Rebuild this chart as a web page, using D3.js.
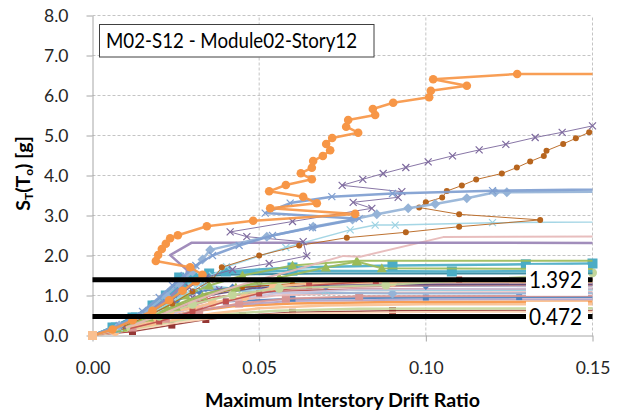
<!DOCTYPE html>
<html><head><meta charset="utf-8">
<script src="https://cdn.jsdelivr.net/npm/d3@7"></script>
<style>body{margin:0;background:#fff}svg{display:block}text{font-family:Lato,"Open Sans",sans-serif}</style>
</head><body><svg id="c" width="623" height="412"></svg>
<script>
// ---------- DATA ----------
const xTicks = [0, 0.05, 0.10, 0.15];
const yTicks = [0, 1, 2, 3, 4, 5, 6, 7, 8];
const thresholds = [1.392, 0.472];
const thresholdLabels = ["1.392", "0.472"];
const chartTitle = "M02-S12 - Module02-Story12";
const xTitle = "Maximum Interstory Drift Ratio";

// IDA curves: [max interstory drift ratio, ST(T0) g]
const b01 = [[0,0],[0.006,0.2],[0.012,0.45],[0.018,0.75],[0.022,1.0],[0.026,1.25],[0.03,1.45],[0.04,1.6],[0.06,1.7],[0.09,1.75],[0.13,1.78],[0.15,1.8]];
const b02 = [[0,0],[0.007,0.2],[0.013,0.45],[0.019,0.75],[0.024,1.05],[0.027,1.3],[0.026,1.45],[0.035,1.55],[0.06,1.62],[0.1078,1.6],[0.25,1.63]];
const b03 = [[0,0],[0.008,0.2],[0.015,0.45],[0.022,0.75],[0.028,1.0],[0.035,1.25],[0.045,1.5],[0.06,1.75],[0.0793,1.87],[0.25,1.87]];
const b04 = [[0,0],[0.009,0.2],[0.017,0.45],[0.025,0.72],[0.033,0.98],[0.043,1.2],[0.056,1.45],[0.07,1.7],[0.0793,1.85],[0.0868,1.68],[0.25,1.64]];
const b05 = [[0,0],[0.01,0.15],[0.02,0.35],[0.03,0.6],[0.04,0.85],[0.05,1.05],[0.065,1.25],[0.085,1.36],[0.11,1.4],[0.25,1.42]];
const b06 = [[0,0],[0.009,0.2],[0.018,0.45],[0.026,0.75],[0.034,1.0],[0.045,1.2],[0.06,1.3],[0.09,1.34],[0.129,1.37],[0.25,1.37]];
const b07 = [[0,0],[0.008,0.2],[0.016,0.45],[0.024,0.7],[0.03,0.95],[0.038,1.15],[0.05,1.25],[0.075,1.3],[0.25,1.32]];
const b08 = [[0,0],[0.01,0.2],[0.019,0.45],[0.028,0.7],[0.038,0.95],[0.05,1.1],[0.07,1.2],[0.1,1.25],[0.25,1.27]];
const b09 = [[0,0],[0.011,0.2],[0.02,0.45],[0.03,0.7],[0.042,0.9],[0.055,1.05],[0.08,1.15],[0.25,1.21]];
const b10 = [[0,0],[0.007,0.2],[0.014,0.45],[0.02,0.7],[0.025,0.95],[0.028,1.2],[0.029,1.35],[0.034,1.25],[0.045,1.15],[0.07,1.13],[0.25,1.16]];
const b11 = [[0,0],[0.01,0.2],[0.02,0.45],[0.03,0.68],[0.04,0.85],[0.055,1.0],[0.08,1.07],[0.25,1.11]];
const b12 = [[0,0],[0.008,0.2],[0.016,0.5],[0.022,0.8],[0.026,1.05],[0.029,1.3],[0.027,1.42],[0.034,1.2],[0.05,1.08],[0.09,1.05],[0.25,1.06]];
const b13 = [[0,0],[0.012,0.2],[0.022,0.42],[0.032,0.62],[0.044,0.8],[0.058,0.92],[0.08,0.98],[0.25,1.01]];
const b14 = [[0,0],[0.01,0.2],[0.02,0.45],[0.03,0.7],[0.04,0.85],[0.06,0.92],[0.1,0.95],[0.128,0.96],[0.25,0.97]];
const b15 = [[0,0],[0.011,0.2],[0.021,0.42],[0.031,0.62],[0.043,0.77],[0.06,0.86],[0.1,0.9],[0.25,0.92]];
const b16 = [[0,0],[0.01,0.2],[0.02,0.42],[0.03,0.6],[0.042,0.73],[0.06,0.8],[0.09,0.84],[0.25,0.86]];
const b17 = [[0,0],[0.0068,0.1],[0.0178,0.345],[0.0233,0.6],[0.03,0.68],[0.036,0.82],[0.0457,0.97],[0.0543,1.22],[0.065,1.3],[0.09,1.33],[0.25,1.35]];
const b18 = [[0,0],[0.012,0.18],[0.024,0.38],[0.036,0.55],[0.05,0.68],[0.07,0.75],[0.1,0.78],[0.25,0.79]];
const b19 = [[0,0],[0.012,0.17],[0.025,0.37],[0.038,0.52],[0.055,0.62],[0.08,0.67],[0.25,0.7]];
const b20 = [[0,0],[0.012,0.1],[0.0238,0.26],[0.034,0.4],[0.045,0.5],[0.06,0.58],[0.09,0.62],[0.25,0.64]];
const b21 = [[0,0],[0.013,0.15],[0.026,0.33],[0.04,0.47],[0.06,0.55],[0.1,0.59],[0.25,0.6]];
const b22 = [[0,0],[0.007,0.25],[0.014,0.55],[0.019,0.85],[0.023,1.15],[0.026,1.38],[0.03,1.45],[0.04,1.52],[0.07,1.55],[0.25,1.56]];
const b23 = [[0,0],[0.009,0.25],[0.018,0.55],[0.025,0.85],[0.032,1.1],[0.042,1.2],[0.07,1.23],[0.1,1.24],[0.25,1.25]];
const b24 = [[0,0],[0.009,0.22],[0.018,0.5],[0.026,0.8],[0.034,1.05],[0.045,1.25],[0.06,1.35],[0.1,1.38],[0.25,1.4]];
const b25 = [[0,0],[0.01,0.22],[0.02,0.5],[0.028,0.78],[0.036,1.02],[0.048,1.18],[0.07,1.26],[0.25,1.3]];
const b26 = [[0,0],[0.009,0.2],[0.018,0.46],[0.027,0.72],[0.036,0.95],[0.05,1.1],[0.08,1.16],[0.25,1.19]];
const b27 = [[0,0],[0.01,0.2],[0.02,0.48],[0.03,0.78],[0.042,1.02],[0.056,1.18],[0.088,1.26],[0.15,1.57]];
const recPink = [[0,0],[0.01,0.2],[0.02,0.5],[0.03,0.85],[0.04,1.15],[0.05,1.4],[0.06,1.62],[0.068,1.82],[0.0753,1.99],[0.0803,1.97],[0.1052,2.46],[0.25,2.51]];
const recPurpleFlat = [[0,0],[0.009,0.25],[0.017,0.6],[0.023,0.95],[0.027,1.25],[0.0283,1.5],[0.0283,1.64],[0.0233,2.01],[0.0298,2.32],[0.25,2.31]];
const recLightAqua = [[0,0],[0.008,0.2],[0.016,0.5],[0.024,0.85],[0.031,1.2],[0.036,1.5],[0.0402,1.72],[0.058,2.2],[0.0773,2.64],[0.0848,2.76],[0.0908,2.76],[0.12,2.82],[0.25,2.9]];
const recBlueB = [[0,0],[0.008,0.25],[0.016,0.6],[0.022,1.0],[0.026,1.3],[0.03,1.6],[0.033,1.9],[0.0353,2.14],[0.0523,2.47],[0.0662,2.72],[0.078,2.9],[0.0853,3.03],[0.0947,3.18],[0.1028,3.29],[0.1123,3.43],[0.1208,3.58],[0.1243,3.58],[0.25,3.64]];
const recBlueA = [[0,0],[0.008,0.25],[0.015,0.6],[0.02,0.95],[0.024,1.25],[0.0275,1.5],[0.031,1.75],[0.036,2.0],[0.044,2.25],[0.054,2.5],[0.066,2.7],[0.08,2.92],[0.0518,3.06],[0.0593,3.31],[0.0718,3.47],[0.09,3.55],[0.12,3.62],[0.25,3.75]];
const recBrown = [[0,0],[0.009,0.22],[0.017,0.5],[0.024,0.8],[0.03,1.1],[0.036,1.4],[0.0388,1.705],[0.05,2.0],[0.062,2.25],[0.0763,2.445],[0.094,2.58],[0.11,2.72],[0.1343,2.89],[0.11,3.03],[0.098,3.2],[0.1,3.33],[0.1049,3.45],[0.1063,3.61],[0.1108,3.75],[0.1151,3.9],[0.1228,4.05],[0.1273,4.2],[0.1313,4.35],[0.1354,4.49],[0.1362,4.62],[0.1412,4.79],[0.145,4.93],[0.149,5.08],[0.16,5.25]];
const recPurpleX = [[0,0],[0.009,0.25],[0.017,0.55],[0.024,0.9],[0.029,1.2],[0.034,1.45],[0.042,1.65],[0.053,1.8],[0.0643,1.99],[0.0632,2.345],[0.0463,2.47],[0.0413,2.59],[0.06,2.85],[0.0838,3.18],[0.0782,3.33],[0.0917,3.455],[0.0928,3.595],[0.0749,3.755],[0.0811,3.905],[0.0872,4.05],[0.094,4.2],[0.1007,4.34],[0.108,4.49],[0.116,4.64],[0.124,4.78],[0.1328,4.95],[0.1409,5.08],[0.15,5.24]];
const recOrange = [[0,0],[0.006,0.15],[0.012,0.38],[0.018,0.62],[0.023,0.88],[0.027,1.12],[0.031,1.35],[0.033,1.52],[0.0293,1.705],[0.019,1.863],[0.0197,2.013],[0.0208,2.163],[0.022,2.295],[0.0233,2.43],[0.0256,2.505],[0.0343,2.73],[0.0482,2.87],[0.0788,3.04],[0.0533,3.18],[0.0673,3.305],[0.0632,3.47],[0.053,3.605],[0.058,3.763],[0.0658,3.905],[0.0625,4.055],[0.0658,4.195],[0.0662,4.363],[0.0691,4.488],[0.0713,4.63],[0.0701,4.788],[0.0719,4.938],[0.0797,5.07],[0.0761,5.22],[0.0767,5.388],[0.0848,5.513],[0.0841,5.663],[0.0902,5.82],[0.101,5.955],[0.1015,6.12],[0.1123,6.245],[0.1022,6.405],[0.1274,6.538],[0.25,6.55]];

const records = [b20,b21,b19,b18,b16,b15,b14,b13,b11,b12,b10,b26,b09,b23,b08,b25,b07,b06,b17,b24,b05,b27,b22,b02,b01,b04,b03,recPink,recPurpleFlat,recLightAqua,recBrown,recPurpleX,recBlueB,recBlueA,recOrange];

// ---------- STYLES (parallel to records) ----------
const recordStyles = [
 {c:"#953735",w:1.5,m:"square",s:3.5},
 {c:"#FCD5B5",w:2,m:null},
 {c:"#C3D69B",w:2.5,m:null},
 {c:"#FABF8F",w:2.5,m:null},
 {c:"#F79646",w:2.5,m:null},
 {c:"#B3A2C7",w:2,m:null},
 {c:"#4F81BD",w:2,m:"square",s:3},
 {c:"#D99694",w:2,m:"square",s:4},
 {c:"#E6B9B8",w:2,m:null},
 {c:"#95B3D7",w:2,m:"diamond",s:5},
 {c:"#93CDDD",w:2,m:"star",s:4},
 {c:"#C0504D",w:1.5,m:null},
 {c:"#CCC1DA",w:2,m:null},
 {c:"#4F81BD",w:1.5,m:"diamond",s:4},
 {c:"#D99694",w:2,m:null},
 {c:"#5F497A",w:1.5,m:null},
 {c:"#8064A2",w:1.2,m:"x",s:3},
 {c:"#B65708",w:1.2,m:"circle",s:2.5},
 {c:"#FAC090",w:2.5,m:"circle",s:4.5},
 {c:"#9BBB59",w:2,m:null},
 {c:"#C0504D",w:1.5,m:"square",s:3},
 {c:"#C3D69B",w:2,m:"circle",s:4.5},
 {c:"#31859C",w:2,m:null},
 {c:"#4BACC6",w:2.5,m:"square",s:5},
 {c:"#4BACC6",w:2.5,m:"square",s:5},
 {c:"#9BBB59",w:2,m:"triangle",s:5},
 {c:"#9BBB59",w:2,m:"triangle",s:5},
 {c:"#E6B9B8",w:2,m:null},
 {c:"#9983B5",w:2.5,m:null},
 {c:"#9DD3E3",w:1.5,m:"x",s:3.5},
 {c:"#B7651E",w:1,m:"circle",s:3},
 {c:"#7E6A9E",w:1,m:"x",s:3.5},
 {c:"#95B3D7",w:2.5,m:"diamond",s:5},
 {c:"#7F9ED0",w:2.5,m:"x",s:3.5},
 {c:"#F79646",w:2.5,m:"circle",s:4.3}
];

// ---------- DRAW ----------
const svg = d3.select("#c");
const x = d3.scaleLinear().domain([0, 0.15]).range([92.5, 592.5]);
const y = d3.scaleLinear().domain([0, 8]).range([335.5, 15.5]);

svg.append("defs").append("clipPath").attr("id","pc").append("rect")
  .attr("x", x(0)).attr("y", y(8)).attr("width", x(0.15)-x(0)).attr("height", y(0)-y(8));

// gridlines
svg.append("g").selectAll("line").data(yTicks.filter(d=>d>0)).join("line")
  .attr("x1", x(0)).attr("x2", x(0.15)).attr("y1", d=>y(d)).attr("y2", d=>y(d))
  .attr("stroke","#c4c4c4").attr("stroke-dasharray","3,2").attr("stroke-width",1);
svg.append("g").selectAll("line").data(xTicks.filter(d=>d>0)).join("line")
  .attr("y1", y(0)).attr("y2", y(8)).attr("x1", d=>x(d)).attr("x2", d=>x(d))
  .attr("stroke","#c4c4c4").attr("stroke-dasharray","3,2").attr("stroke-width",1);

// axes
const gy = svg.append("g").attr("transform",`translate(${x(0)},0)`)
  .call(d3.axisLeft(y).tickValues(yTicks).tickFormat(d3.format(".1f")).tickSize(6).tickSizeOuter(0).tickPadding(18));
const gx = svg.append("g").attr("transform",`translate(0,${y(0)})`)
  .call(d3.axisBottom(x).tickValues(xTicks).tickFormat(d3.format(".2f")).tickSize(6).tickSizeOuter(0).tickPadding(20));
[gy, gx].forEach(g=>{
  g.select(".domain").attr("stroke","#a6a6a6");
  g.selectAll(".tick line").attr("stroke","#a6a6a6");
  g.selectAll(".tick text").attr("font-size","17.5px").attr("fill","#262626").attr("font-family","Lato, 'Open Sans', sans-serif");
});

// curves
const line = d3.line().x(d=>x(d[0])).y(d=>y(d[1]));
const gc = svg.append("g");
records.forEach((rec,i)=>{
  const st = recordStyles[i];
  gc.append("path").attr("d", line(rec)).attr("fill","none")
    .attr("stroke", st.c).attr("stroke-width", st.w).attr("stroke-opacity",0.92)
    .attr("stroke-linejoin","round").attr("stroke-linecap","round")
    .attr("clip-path","url(#pc)");
  if (!st.m) return;
  const pts = rec.filter(d=>d[0] <= 0.1501 && !(d[0]===0 && d[1]===0));
  const g = gc.append("g");
  const s = st.s;
  pts.forEach(d=>{
    const px = x(d[0]), py = y(d[1]);
    if (st.m==="circle") g.append("circle").attr("cx",px).attr("cy",py).attr("r",s).attr("fill",st.c);
    else if (st.m==="square") g.append("rect").attr("x",px-s).attr("y",py-s).attr("width",2*s).attr("height",2*s).attr("fill",st.c);
    else if (st.m==="triangle") g.append("path").attr("d",`M${px},${py-s}L${px+s},${py+s*0.8}L${px-s},${py+s*0.8}Z`).attr("fill",st.c);
    else if (st.m==="diamond") g.append("path").attr("d",`M${px},${py-s}L${px+s},${py}L${px},${py+s}L${px-s},${py}Z`).attr("fill",st.c);
    else if (st.m==="x") g.append("path").attr("d",`M${px-s},${py-s}L${px+s},${py+s}M${px-s},${py+s}L${px+s},${py-s}`).attr("stroke",st.c).attr("stroke-width",1.2).attr("fill","none");
    else if (st.m==="star") g.append("path").attr("d",`M${px-s},${py-s}L${px+s},${py+s}M${px-s},${py+s}L${px+s},${py-s}M${px},${py-s}L${px},${py+s}`).attr("stroke",st.c).attr("stroke-width",1.2).attr("fill","none");
  });
});
// start point marker (peach square at origin)
gc.append("rect").attr("x",x(0)-4.5).attr("y",y(0)-4.5).attr("width",9).attr("height",9).attr("fill","#FAC090");

// threshold lines
svg.append("g").selectAll("line").data(thresholds).join("line")
  .attr("x1",x(0)).attr("x2",x(0.15)).attr("y1",d=>y(d)).attr("y2",d=>y(d))
  .attr("stroke","#000").attr("stroke-width",5);

// threshold labels
const lab = svg.append("g").selectAll("g").data(thresholds).join("g");
lab.append("rect").attr("x", x(0.15)-66.5).attr("y", d=>y(d)-15).attr("width",62).attr("height",31).attr("fill","#fff");
lab.append("text").attr("x", x(0.15)-63.5).attr("y", d=>y(d)+8.5)
  .attr("font-size","22.5px").attr("fill","#000")
  .attr("textLength",53).attr("lengthAdjust","spacingAndGlyphs")
  .text((d,i)=>thresholdLabels[i]);

// title box
svg.append("rect").attr("x",99.5).attr("y",24.5).attr("width",274.5).attr("height",32.5)
  .attr("fill","#fff").attr("stroke","#404040").attr("stroke-width",1);
svg.append("text").attr("x",106).attr("y",48).attr("font-size","20.5px").attr("fill","#000")
  .attr("textLength",251).attr("lengthAdjust","spacingAndGlyphs").text(chartTitle);

// x axis title
svg.append("text").attr("x",(x(0)+x(0.15))/2).attr("y",407).attr("text-anchor","middle")
  .attr("font-size","18.5px").attr("font-weight","bold").attr("fill","#000")
  .attr("textLength",275).attr("lengthAdjust","spacingAndGlyphs").text(xTitle);

// y axis title with subscripts
const yt = svg.append("text").attr("transform",`translate(30,${(y(0)+y(8))/2 - 2}) rotate(-90)`)
  .attr("text-anchor","middle").attr("font-weight","bold").attr("fill","#000").attr("font-size","19.5px");
yt.append("tspan").text("S");
yt.append("tspan").attr("font-size","12px").attr("dy",3).text("T");
yt.append("tspan").attr("dy",-3).text("(T");
yt.append("tspan").attr("font-size","12px").attr("dy",3).text("o");
yt.append("tspan").attr("dy",-3).text(") [g]");
</script></body></html>
